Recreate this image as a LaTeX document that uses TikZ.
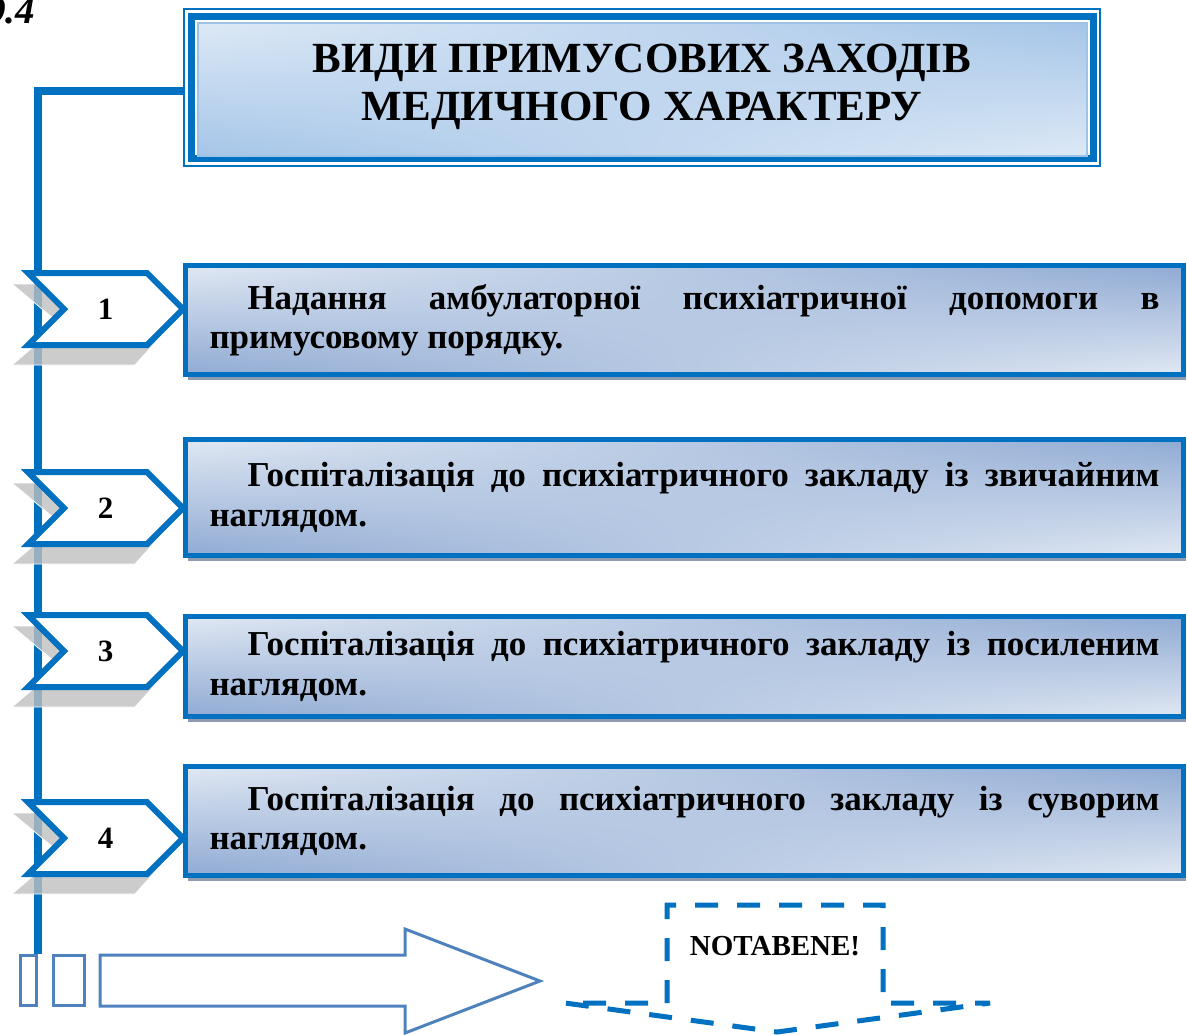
\documentclass[tikz,border=0pt]{standalone}
\usepackage{fontspec}
\setmainfont{Liberation Serif}
\usetikzlibrary{shapes.symbols,shadows,shadings}
\definecolor{mblue}{HTML}{0070C0}
\definecolor{arrblue}{HTML}{4F81BD}
\definecolor{tlight}{HTML}{DDE9F6}
\definecolor{tdark}{HTML}{A5C5E8}
\definecolor{tline}{HTML}{9DC3E6}
\definecolor{blight}{HTML}{E0E8F3}
\definecolor{bdark}{HTML}{8FAAD3}
\definecolor{chshadow}{HTML}{BFBFBF}
\definecolor{bshadow}{HTML}{8E9BB0}
\begin{document}
\begin{tikzpicture}[x=1pt,y=-1pt,
  trunk/.style={mblue,line width=8,line join=miter},
  titlebox/.style={draw=tline,line width=2,inner sep=0,
    upper left=tlight,lower left=tdark,upper right=tdark,lower right=tlight,
    align=center,font=\fontsize{43}{48}\selectfont\bfseries},
  itembox/.style={draw=mblue,line width=5,inner sep=0,
    upper left=blight,lower left=bdark,upper right=bdark,lower right=blight,
    minimum width=998,text width=950,align=justify,
    font=\fontsize{35}{39.5}\selectfont\bfseries,
    drop shadow={shadow xshift=2pt,shadow yshift=-5pt,fill=bshadow,opacity=1}},
  chev/.style={signal,signal to=east,signal from=west,signal pointer angle=90,
    draw=mblue,line width=6,fill=white,minimum width=155,minimum height=72,
    inner sep=0,font=\fontsize{31}{31}\selectfont\bfseries},
  chshade/.style={fill=chshadow,fill opacity=0.8,draw=white,line width=0.8},
  smallrect/.style={draw=arrblue,line width=3,inner sep=0,minimum height=49.5},
  nbline/.style={mblue,line width=5,dash pattern=on 23pt off 19pt}
]
\useasboundingbox (0,0) rectangle (1188,1034);

% figure number (cut at the left edge)
\node[anchor=base east,inner sep=0,font=\fontsize{39}{39}\selectfont\bfseries\itshape] (fig) at (35,23) {9.4};

% title frame
\node[draw=mblue,line width=2,minimum width=916,minimum height=157,inner sep=0] (tout) at (642,87.5) {};
\draw[mblue,line width=7] ([shift={(8,8.5)}]tout.north west) rectangle ([shift={(-8,-8.5)}]tout.south east);
\node[titlebox,minimum width=889,minimum height=133.5] (t) at (642,89.25)
  {ВИДИ ПРИМУСОВИХ ЗАХОДІВ\\МЕДИЧНОГО ХАРАКТЕРУ\vspace{5pt}};

% bottom rectangles
\node[smallrect,minimum width=16] (r1) at (28,980.5) {};
\node[smallrect,minimum width=31] (r2) at (68.5,980.5) {};

% trunk line
\draw[trunk] ([yshift=-3.5pt]tout.west) -| (r1.north east);

% chevron shadows
\foreach \cy in {309,508,651,838}{
  \begin{scope}[shift={(105.5,\cy)}]
    \path[chshade] (-93.5,-25) -- (34.5,-25) -- (66.5,15) -- (29.5,56) -- (-93.5,56) -- (-45.5,15) -- cycle;
  \end{scope}
}

% chevrons
\node[chev] (c1) at (105.5,309) {1};
\node[chev] (c2) at (105.5,508) {2};
\node[chev] (c3) at (105.5,651) {3};
\node[chev] (c4) at (105.5,838) {4};

% item boxes
\node[itembox,minimum height=109] (b1) at (684.5,320)
  {\hspace*{38pt}Надання амбулаторної психіатричної допомоги в\linebreak примусовому порядку.};
\node[itembox,minimum height=116] (b2) at (684.5,497.5)
  {\hspace*{38pt}Госпіталізація до психіатричного закладу із звичайним\linebreak наглядом.};
\node[itembox,minimum height=100] (b3) at (684.5,666.5)
  {\hspace*{38pt}Госпіталізація до психіатричного закладу із посиленим\linebreak наглядом.};
\node[itembox,minimum height=109] (b4) at (684.5,821)
  {\hspace*{38pt}Госпіталізація до психіатричного закладу із суворим\linebreak наглядом.};

% big arrow
\draw[arrblue,line width=3,line join=miter] (100,955) -- (405,955) -- (405,929) -- (540,981)
  -- (405,1033) -- (405,1006) -- (100,1006) -- cycle;

% notabene callout
\draw[nbline] (667,1003) -- (667,905) -- (883,905) -- (883,1003) -- (990,1003)
  -- (777,1032) -- (565,1003) -- cycle;
\node[inner sep=0,font=\fontsize{29}{29}\selectfont\bfseries] (nb) at (775,946) {NOTABENE!};
\end{tikzpicture}
\end{document}
